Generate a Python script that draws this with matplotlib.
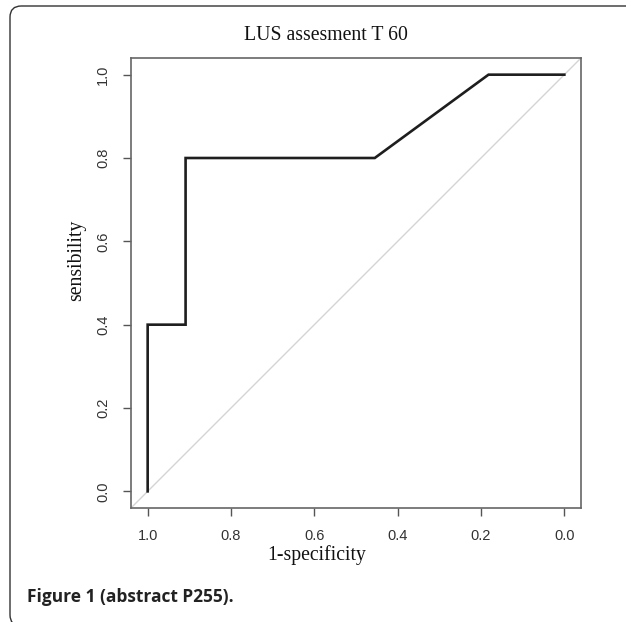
import matplotlib
matplotlib.use("Agg")
import matplotlib.pyplot as plt
from matplotlib.patches import FancyBboxPatch

# ROC curve (x is specificity, shown on a reversed axis)
specificity = [1.0, 1.0, 0.909, 0.909, 0.455, 0.182, 0.0]
sensitivity = [0.0, 0.4, 0.4, 0.8, 0.8, 1.0, 1.0]
ticks = [0.0, 0.2, 0.4, 0.6, 0.8, 1.0]
tick_labels = ["0.0", "0.2", "0.4", "0.6", "0.8", "1.0"]

W, H = 626, 622
fig = plt.figure(figsize=(W / 100, H / 100), dpi=100)

# rounded frame around the figure, running off the right and bottom edges
frame = FancyBboxPatch((10 / W, -4 / H), 660 / W, (H - 6 + 4) / H,
                       boxstyle="round,pad=0,rounding_size=0.018",
                       transform=fig.transFigure, fill=False,
                       edgecolor="#333333", linewidth=1.0)
fig.patches.append(frame)

ax = fig.add_axes([131 / W, 1 - 508 / H, 450 / W, 450 / H])
ax.plot([1.1, -0.1], [-0.1, 1.1], color="#d4d4d4", linewidth=1.0)
ax.plot(specificity, sensitivity, color="#1e1e1e", linewidth=1.9,
        solid_joinstyle="miter")
ax.set_xlim(1.04, -0.04)
ax.set_ylim(-0.04, 1.04)

tick_font = dict(fontfamily="Liberation Sans", fontsize=10.5, color="#333333")
ax.set_xticks(ticks)
ax.set_xticklabels(tick_labels, **tick_font)
ax.set_yticks(ticks)
ax.set_yticklabels(tick_labels, rotation=90, va="center", **tick_font)
ax.tick_params(direction="out", length=6, width=1, color="#555555", pad=9)
for s in ax.spines.values():
    s.set_color("#666666")
    s.set_linewidth(1.2)

serif = dict(family="Liberation Serif", fontsize=14.2, color="#111111")
fig.text(326 / W, 1 - 35 / H, "LUS assesment T 60", ha="center",
         va="center", **serif)
ax.set_xlabel("1-specificity", va="center", **serif)
ax.xaxis.set_label_coords((317 - 131) / 450, (508 - 555) / 450)
ax.set_ylabel("sensibility", va="center", **serif)
ax.yaxis.set_label_coords((77 - 131) / 450, (508 - 260) / 450)

fig.text(27 / W, 1 - 597 / H, "Figure 1 (abstract P255).",
         family=["Open Sans", "DejaVu Sans"], fontweight="bold",
         fontsize=12.5, color="#222222", va="center")

fig.savefig("out.png", dpi=100)
